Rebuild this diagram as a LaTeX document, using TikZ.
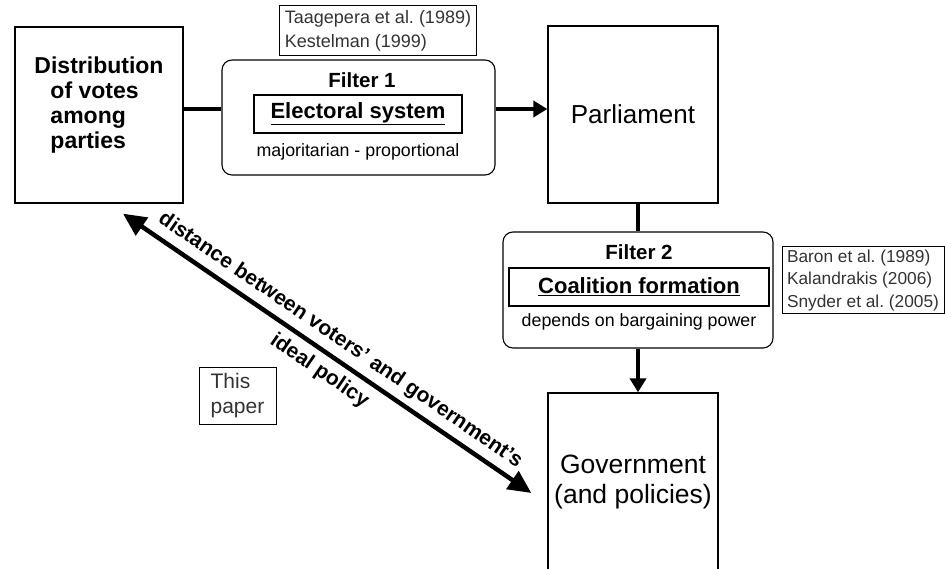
\documentclass[tikz,border=0pt]{standalone}
\usepackage{fontspec}
\setmainfont{Liberation Sans}
\usetikzlibrary{arrows.meta}
\frenchspacing

\begin{document}
\begin{tikzpicture}[
        x=1pt, y=-1pt,
        block/.style={draw, line width=1.3pt, inner sep=0pt, minimum width=170pt, minimum height=177pt},
        filter/.style={draw, line width=1.1pt, rounded corners=10pt, inner sep=0pt},
        inbox/.style={draw, line width=1.5pt, inner sep=0pt, font=\fontsize{22}{24}\selectfont\bfseries},
        refbox/.style={draw, line width=1pt, inner xsep=5pt, inner ysep=1pt, align=left, text=black!80},
        ftitle/.style={font=\fontsize{20.5}{24}\selectfont\bfseries},
        fnote/.style={font=\fontsize{17.8}{22}\selectfont},
        link/.style={line width=4pt},
        flow/.style={line width=4pt, -{Triangle[length=14pt, width=16pt]}},
        dist2/.style={line width=4.5pt, {Triangle[length=23pt, width=21pt]}-{Triangle[length=23pt, width=21pt]}},
        slant/.style={font=\fontsize{21}{24}\selectfont\bfseries, sloped, pos=0.507, inner sep=2pt}
    ]
    \useasboundingbox (0,0) rectangle (945,569);

    % main boxes
    \node[block, minimum width=168pt, minimum height=176pt] (dist) at (99,115) {};
    \node[font=\fontsize{23}{25}\selectfont\bfseries, align=left] (dtxt) at (99,105)
        {Distribution\\\hspace*{16pt}of votes\\\hspace*{16pt}among\\\hspace*{16pt}parties};
    \node[block, font=\fontsize{26}{30}\selectfont] (parl) at (633,114.5) {Parliament};
    \node[block, minimum height=177pt, align=center, font=\fontsize{26.5}{30}\selectfont]
        (gov) at (633,481.5) {Government\\(and policies)};

    % filter 1
    \node[filter, minimum width=273pt, minimum height=115pt] (f1) at (358.5,117.5) {};
    \node[ftitle] (t1) at (362,80) {Filter 1};
    \node[inbox, minimum width=208pt, minimum height=38pt] (es) at (358,114) {\underline{Electoral system}};
    \node[fnote] (n1) at (358,152) {majoritarian - proportional};

    % filter 2
    \node[filter, minimum width=270pt, minimum height=116pt] (f2) at (638,290) {};
    \node[ftitle] (t2) at (639,252) {Filter 2};
    \node[inbox, minimum width=260pt, minimum height=38pt] (cf) at (639,287) {\underline{Coalition formation}};
    \node[fnote] (n2) at (639,322) {depends on bargaining power};

    % references
    \node[refbox, font=\fontsize{18}{24}\selectfont, minimum width=194pt, minimum height=50pt] (r1) at (378,31)
        {Taagepera et al. (1989)\\Kestelman (1999)};
    \node[refbox, font=\fontsize{17.3}{22.5}\selectfont, minimum width=162pt, minimum height=67pt] (r2) at (863,280.5)
        {Baron et al. (1989)\\Kalandrakis (2006)\\Snyder et al. (2005)};
    \node[draw, line width=1pt, align=left, text=black!80, minimum width=77pt, minimum height=57pt,
          font=\fontsize{21}{25}\selectfont] (tp) at (237.5,395.5) {This\\paper};

    % connectors
    \draw[link] ([yshift=6pt]dist.east) -- ([yshift=8.5pt]f1.west);
    \draw[flow] ([yshift=8.5pt]f1.east) -- ([yshift=5.5pt]parl.west);
    \draw[link] (f2.north |- parl.south) -- (f2.north);
    \draw[flow] (f2.south) -- (f2.south |- gov.north);

    \draw[dist2] ([shift={(24,10)}]dist.south) -- ([shift={(-16,11.5)}]gov.west)
        node[slant, above=4pt] {distance between voters’ and government’s}
        node[slant, below=5pt] {ideal policy};
\end{tikzpicture}
\end{document}
